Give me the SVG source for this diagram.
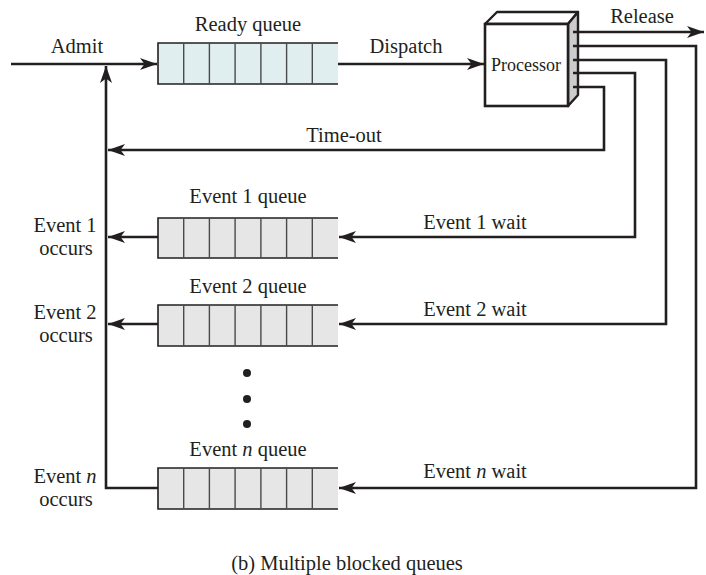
<svg xmlns="http://www.w3.org/2000/svg" width="706" height="575" viewBox="0 0 706 575">
<defs>
<style>
text{font-family:"Liberation Serif","Times New Roman",serif;font-size:20.5px;fill:#231f20;text-anchor:middle}
.ln{fill:none;stroke:#231f20;stroke-width:2.6}
.q{stroke:#231f20;stroke-width:1.6;fill:none}
.div{stroke:#4a4a4a;stroke-width:1.4}
.rq{fill:#e0eef0}
.eq{fill:#e6e6e6}
</style>
<marker id="ah" markerUnits="userSpaceOnUse" markerWidth="20" markerHeight="14" refX="17" refY="7" orient="auto">
<path d="M17,7 L0,1 L4.5,7 L0,13 Z" fill="#231f20"/>
</marker>
</defs>
<rect width="706" height="575" fill="#fff"/>

<g id="ready-queue">
<rect class="rq" x="158" y="43" width="180" height="41"/>
<path class="q" d="M338,43 H158 V84 H338"/>
<path class="div" d="M183.7,43V84M209.4,43V84M235.1,43V84M260.9,43V84M286.6,43V84M312.3,43V84"/>
<text x="248" y="31">Ready queue</text>
</g>

<g id="processor">
<polygon points="485,24 497,12 578,12 568,24" fill="#fff" stroke="#231f20" stroke-width="2.4" stroke-linejoin="round"/>
<polygon points="568,24 578,12 578,95 568,106" fill="#cccccc" stroke="#231f20" stroke-width="2.4" stroke-linejoin="round"/>
<rect x="485" y="24" width="83" height="82" fill="#fff" stroke="#231f20" stroke-width="2.6"/>
<text x="526" y="71" style="font-size:18px">Processor</text>
</g>

<g id="event1-queue">
<rect class="eq" x="158" y="218" width="180" height="40"/>
<path class="q" d="M338,218 H158 V258 H338"/>
<path class="div" d="M183.7,218V258M209.4,218V258M235.1,218V258M260.9,218V258M286.6,218V258M312.3,218V258"/>
<text x="248" y="203">Event 1 queue</text>
</g>

<g id="event2-queue">
<rect class="eq" x="158" y="305" width="180" height="41"/>
<path class="q" d="M338,305 H158 V346 H338"/>
<path class="div" d="M183.7,305V346M209.4,305V346M235.1,305V346M260.9,305V346M286.6,305V346M312.3,305V346"/>
<text x="248" y="293">Event 2 queue</text>
</g>

<g id="ellipsis">
<circle cx="247" cy="373" r="4" fill="#231f20"/>
<circle cx="247" cy="399" r="4" fill="#231f20"/>
<circle cx="247" cy="424" r="4" fill="#231f20"/>
</g>

<g id="eventn-queue">
<rect class="eq" x="158" y="468" width="180" height="41"/>
<path class="q" d="M338,468 H158 V509 H338"/>
<path class="div" d="M183.7,468V509M209.4,468V509M235.1,468V509M260.9,468V509M286.6,468V509M312.3,468V509"/>
<text x="248" y="456">Event <tspan font-style="italic">n</tspan> queue</text>
</g>

<g id="connectors">
<path class="ln" d="M11,64 H157" marker-end="url(#ah)"/>
<path class="ln" d="M158,488 H106 V66" marker-end="url(#ah)"/>
<path class="ln" d="M338,64 H484" marker-end="url(#ah)"/>
<path class="ln" d="M573,32 H704" marker-end="url(#ah)"/>
<path class="ln" d="M573,46 H696 V488 H339" marker-end="url(#ah)"/>
<path class="ln" d="M573,60 H666 V324 H339" marker-end="url(#ah)"/>
<path class="ln" d="M573,73 H635 V237 H339" marker-end="url(#ah)"/>
<path class="ln" d="M573,87 H604 V150 H108" marker-end="url(#ah)"/>
<path class="ln" d="M158,237 H108" marker-end="url(#ah)"/>
<path class="ln" d="M158,324 H108" marker-end="url(#ah)"/>
</g>

<g id="labels">
<text x="77" y="53">Admit</text>
<text x="406" y="53">Dispatch</text>
<text x="642" y="23">Release</text>
<text x="344" y="142">Time-out</text>
<text x="475" y="229">Event 1 wait</text>
<text x="475" y="316">Event 2 wait</text>
<text x="475" y="478">Event <tspan font-style="italic">n</tspan> wait</text>
<text x="65" y="232">Event 1</text>
<text x="66" y="255">occurs</text>
<text x="65" y="319">Event 2</text>
<text x="66" y="342">occurs</text>
<text x="65" y="483">Event <tspan font-style="italic">n</tspan></text>
<text x="66" y="506">occurs</text>
<text x="347" y="570">(b) Multiple blocked queues</text>
</g>
</svg>
